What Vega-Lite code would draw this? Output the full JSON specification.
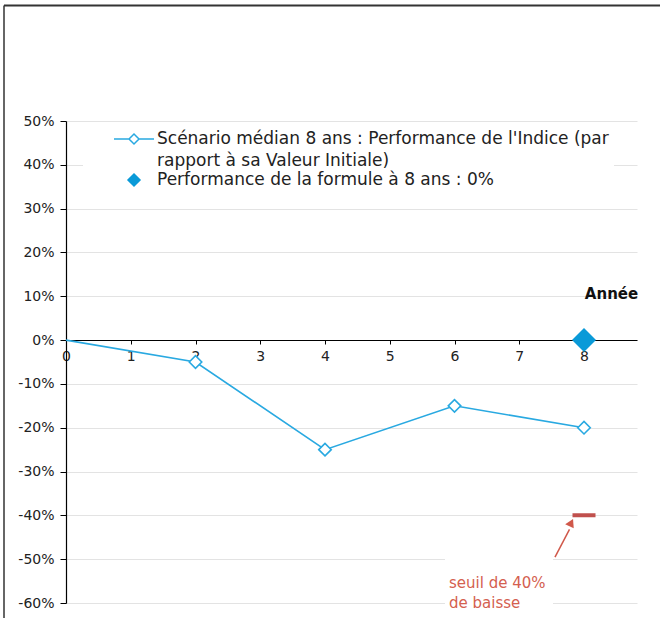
{
  "$schema": "https://vega.github.io/schema/vega-lite/v6.json",
  "width": 571,
  "height": 482,
  "autosize": {"type": "none"},
  "padding": {"left": 66, "top": 121, "right": 23, "bottom": 15},
  "background": "white",
  "config": {
    "view": {"stroke": null},
    "font": "DejaVu Sans",
    "style": {"guide-label": {"lineHeight": 22}},
    "legend": {
      "labelFont": "DejaVu Sans",
      "labelFontSize": 17,
      "labelColor": "#222222",
      "labelLimit": 700,
      "symbolSize": 400,
      "fillColor": "white",
      "padding": 5
    }
  },
  "datasets": {
    "indice": [
      {"annee": 0, "perf": 0},
      {"annee": 2, "perf": -0.05},
      {"annee": 4, "perf": -0.25},
      {"annee": 6, "perf": -0.15},
      {"annee": 8, "perf": -0.20}
    ],
    "formule": [{"annee": 8, "perf": 0}],
    "seuil": [{"annee": 8, "perf": -0.4}],
    "legende": [
      {"serie": "Scénario médian 8 ans : Performance de l'Indice (par rapport à sa Valeur Initiale)"},
      {"serie": "Performance de la formule à 8 ans : 0%"}
    ]
  },
  "layer": [
    {
      "data": {"values": [{}]},
      "mark": {"type": "rect", "color": "white"},
      "encoding": {
        "x": {"datum": 5.853},
        "x2": {"datum": 7.521},
        "y": {"datum": -0.491},
        "y2": {"datum": -0.621}
      }
    },
    {
      "data": {"name": "indice"},
      "mark": {"type": "line", "color": "#29a9e1", "strokeWidth": 1.6},
      "encoding": {
        "x": {
          "field": "annee", "type": "quantitative",
          "scale": {"domain": [0, 8.8185], "nice": false, "zero": false},
          "axis": {
            "orient": "bottom", "offset": -263,
            "values": [0, 1, 2, 3, 4, 5, 6, 7, 8], "format": "d",
            "grid": false, "domainColor": "#000000", "domainWidth": 1.2,
            "tickColor": "#000000", "tickSize": 4, "labelPadding": 5,
            "labelFont": "DejaVu Sans", "labelFontSize": 14, "labelColor": "#222222",
            "labelFlush": false, "labelOverlap": false,
            "title": "Année", "titleFont": "DejaVu Sans", "titleFontWeight": "bold", "titleFontSize": 15,
            "titleColor": "#111111", "titleX": 545, "titleY": -47,
            "titleAlign": "center", "titleBaseline": "middle", "titleAngle": 0
          }
        },
        "y": {
          "field": "perf", "type": "quantitative",
          "scale": {"domain": [-0.6, 0.5], "nice": false, "zero": false},
          "axis": {
            "values": [-0.6, -0.5, -0.4, -0.3, -0.2, -0.1, 0, 0.1, 0.2, 0.3, 0.4, 0.5],
            "labelExpr": "(datum.value < -0.001 ? '-' : '') + format(abs(datum.value), '.0%')",
            "grid": true, "gridColor": "#e3e3e3", "gridWidth": 1,
            "domainColor": "#000000", "domainWidth": 1.2, "tickColor": "#000000", "tickSize": 6,
            "labelPadding": 6, "labelFont": "DejaVu Sans", "labelFontSize": 14, "labelColor": "#222222",
            "labelFlush": false, "labelOverlap": false, "title": null
          }
        }
      }
    },
    {
      "data": {"name": "indice"},
      "transform": [{"filter": "datum.annee > 0"}],
      "mark": {"type": "point", "shape": "diamond", "filled": true, "fill": "white", "stroke": "#29a9e1", "strokeWidth": 1.6, "size": 156, "opacity": 1},
      "encoding": {
        "x": {"field": "annee", "type": "quantitative"},
        "y": {"field": "perf", "type": "quantitative"}
      }
    },
    {
      "data": {"name": "formule"},
      "mark": {"type": "point", "shape": "diamond", "filled": true, "color": "#0a9ad8", "size": 576, "opacity": 1},
      "encoding": {
        "x": {"field": "annee", "type": "quantitative"},
        "y": {"field": "perf", "type": "quantitative"}
      }
    },
    {
      "data": {"name": "seuil"},
      "mark": {"type": "tick", "orient": "horizontal", "color": "#c0504d", "thickness": 4, "size": 23, "opacity": 1},
      "encoding": {
        "x": {"field": "annee", "type": "quantitative"},
        "y": {"field": "perf", "type": "quantitative"}
      }
    },
    {
      "data": {"values": [{}]},
      "mark": {"type": "rule", "color": "#d0584a", "strokeWidth": 1.5},
      "encoding": {
        "x": {"datum": 7.552},
        "y": {"datum": -0.4954},
        "x2": {"datum": 7.776},
        "y2": {"datum": -0.432}
      }
    },
    {
      "data": {"values": [{}]},
      "mark": {"type": "point", "shape": "triangle-up", "filled": true, "color": "#d0584a", "size": 90, "angle": 26, "opacity": 1},
      "encoding": {
        "x": {"datum": 7.803},
        "y": {"datum": -0.4165}
      }
    },
    {
      "data": {"values": [{}]},
      "mark": {"type": "text", "align": "left", "baseline": "middle", "font": "DejaVu Sans", "fontSize": 15, "color": "#d4604f", "lineHeight": 20, "text": ["seuil de 40%", "de baisse"]},
      "encoding": {
        "x": {"datum": 5.915},
        "y": {"datum": -0.555}
      }
    },
    {
      "data": {"values": [{}]},
      "mark": {"type": "rule", "color": "#333333", "strokeWidth": 2},
      "encoding": {
        "x": {"datum": -0.9575},
        "x2": {"datum": 9.174},
        "y": {"datum": 0.7637}
      }
    },
    {
      "data": {"values": [{}]},
      "mark": {"type": "rule", "color": "#333333", "strokeWidth": 1.5},
      "encoding": {
        "x": {"datum": -0.9575},
        "y": {"datum": 0.7637},
        "y2": {"datum": -0.6347}
      }
    },
    {
      "data": {"name": "legende"},
      "transform": [{"filter": "isValid(datum.annee)"}],
      "mark": {"type": "point", "filled": true, "strokeWidth": 1.5, "opacity": 1},
      "encoding": {
        "x": {"field": "annee", "type": "quantitative"},
        "y": {"field": "perf", "type": "quantitative"},
        "fill": {
          "field": "serie", "type": "nominal",
          "scale": {
            "domain": ["Scénario médian 8 ans : Performance de l'Indice (par rapport à sa Valeur Initiale)", "Performance de la formule à 8 ans : 0%"],
            "range": ["#ffffff", "#0a9ad8"]
          },
          "legend": {
            "orient": "none", "legendX": 17, "legendY": 2, "title": null,
            "symbolOffset": 35, "labelOffset": 12, "rowPadding": -2,
            "symbolStrokeWidth": 1.5, "symbolOpacity": 1,
            "labelExpr": "indexof(datum.label, 'Indice') >= 0 ? [\"Scénario médian 8 ans : Performance de l'Indice (par\u00a0\u00a0\u00a0\u00a0\u00a0\", \"rapport à sa Valeur Initiale)\"] : datum.label"
          }
        },
        "stroke": {
          "field": "serie", "type": "nominal",
          "scale": {
            "domain": ["Scénario médian 8 ans : Performance de l'Indice (par rapport à sa Valeur Initiale)", "Performance de la formule à 8 ans : 0%"],
            "range": ["#29a9e1", "#0a9ad8"]
          },
          "legend": {
            "orient": "none", "legendX": 17, "legendY": 2, "title": null,
            "symbolOffset": 35, "labelOffset": 12, "rowPadding": -2,
            "symbolStrokeWidth": 1.5, "symbolOpacity": 1,
            "labelExpr": "indexof(datum.label, 'Indice') >= 0 ? [\"Scénario médian 8 ans : Performance de l'Indice (par\u00a0\u00a0\u00a0\u00a0\u00a0\", \"rapport à sa Valeur Initiale)\"] : datum.label"
          }
        },
        "shape": {
          "field": "serie", "type": "nominal",
          "scale": {
            "domain": ["Scénario médian 8 ans : Performance de l'Indice (par rapport à sa Valeur Initiale)", "Performance de la formule à 8 ans : 0%"],
            "range": ["M-2,0H-0.5M0.5,0H2M-0.5,0L0,-0.5L0.5,0L0,0.5Z", "M0,-0.6L0.6,0L0,0.6L-0.6,0Z"]
          },
          "legend": {
            "orient": "none", "legendX": 17, "legendY": 2, "title": null,
            "symbolOffset": 35, "labelOffset": 12, "rowPadding": -2,
            "symbolStrokeWidth": 1.5, "symbolOpacity": 1,
            "labelExpr": "indexof(datum.label, 'Indice') >= 0 ? [\"Scénario médian 8 ans : Performance de l'Indice (par\u00a0\u00a0\u00a0\u00a0\u00a0\", \"rapport à sa Valeur Initiale)\"] : datum.label"
          }
        }
      }
    }
  ]
}
